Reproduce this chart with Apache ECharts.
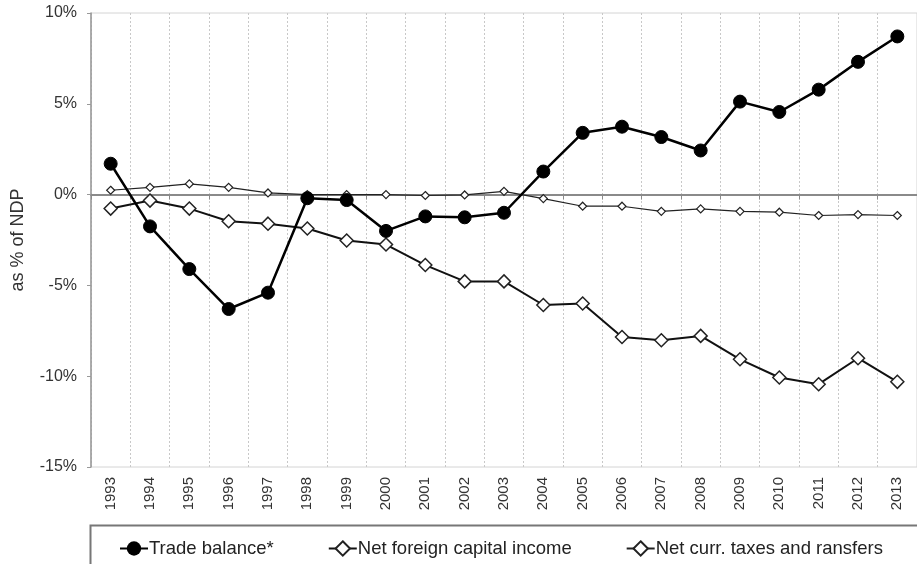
<!DOCTYPE html>
<html style="height: 100%">
<head>
<meta charset="utf-8">
<script src="https://cdn.jsdelivr.net/npm/echarts@6/dist/echarts.min.js"></script>
</head>
<body style="height: 100%; margin: 0; background: #fff">
<div id="container" style="width: 917px; height: 564px"></div>
<script type="text/javascript">
var years = ['1993','1994','1995','1996','1997','1998','1999','2000','2001','2002','2003',
             '2004','2005','2006','2007','2008','2009','2010','2011','2012','2013'];
var tradeBalance = [1.7, -1.75, -4.1, -6.3, -5.4, -0.2, -0.3, -2.0, -1.2, -1.25, -1.0,
                    1.27, 3.4, 3.74, 3.17, 2.43, 5.12, 4.55, 5.78, 7.31, 8.71];
var capitalIncome = [-0.77, -0.33, -0.77, -1.47, -1.6, -1.87, -2.53, -2.75, -3.88, -4.78, -4.78,
                     -6.08, -6.0, -7.84, -8.02, -7.78, -9.07, -10.07, -10.44, -9.01, -10.31];
var taxesTransfers = [0.24, 0.4, 0.59, 0.4, 0.09, 0.0, 0.0, 0.0, -0.05, -0.02, 0.18,
                      -0.22, -0.64, -0.64, -0.92, -0.79, -0.92, -0.97, -1.15, -1.1, -1.15];

var font = 'Liberation Sans, Arial, sans-serif';
var dom = document.getElementById('container');
var myChart = echarts.init(dom);

var option = {
    animation: false,
    textStyle: { fontFamily: font },
    grid: {
        left: 91, right: -7, top: 13, bottom: 97,
        show: true, borderColor: '#d4d4d4', borderWidth: 1
    },
    legend: {
        left: 119, top: 539, padding: 0,
        itemWidth: 28, itemHeight: 18, itemGap: 54,
        textStyle: { fontSize: 18.5, color: '#222', padding: [0, 0, 0, -4] },
        data: ['Trade balance*', 'Net foreign capital income', 'Net curr. taxes and ransfers']
    },
    graphic: [{
        type: 'rect', left: 88, top: 523,
        shape: { width: 850, height: 40 },
        style: { fill: 'none', stroke: '#777', lineWidth: 2 }
    }],
    xAxis: [{
        type: 'category',
        data: years,
        boundaryGap: true,
        axisLine: { onZero: false, show: false },
        axisTick: { show: false },
        axisLabel: { rotate: 90, fontSize: 15, color: '#333', margin: 10 },
        splitLine: { show: true, lineStyle: { color: '#c8c8c8', type: [2, 2], width: 1 } }
    }, {
        type: 'category',
        data: years,
        position: 'top',
        boundaryGap: true,
        axisLine: { onZero: true, lineStyle: { color: '#8a8a8a', width: 2 } },
        axisTick: { show: true, inside: true, length: 5, lineStyle: { color: '#8a8a8a' } },
        axisLabel: { show: false },
        splitLine: { show: false }
    }],
    yAxis: {
        type: 'value',
        min: -15, max: 10, interval: 5,
        name: 'as % of NDP',
        nameLocation: 'middle',
        nameGap: 64,
        nameMoveOverlap: false,
        nameTextStyle: { fontSize: 18, color: '#333' },
        axisLine: { show: true, lineStyle: { color: '#999', width: 1.5 } },
        axisTick: { show: true, length: 4, lineStyle: { color: '#999' } },
        axisLabel: { formatter: '{value}%', fontSize: 16, color: '#333', margin: 14 },
        splitLine: { show: false }
    },
    series: [{
        name: 'Trade balance*',
        type: 'line',
        data: tradeBalance,
        symbol: 'circle',
        symbolSize: 13,
        z: 4,
        lineStyle: { color: '#000', width: 2.5 },
        itemStyle: { color: '#000', borderColor: '#000' }
    }, {
        name: 'Net foreign capital income',
        type: 'line',
        data: capitalIncome,
        symbol: 'diamond',
        symbolSize: 13,
        z: 3,
        lineStyle: { color: '#111', width: 2 },
        itemStyle: { color: '#fff', borderColor: '#222', borderWidth: 1.5 }
    }, {
        name: 'Net curr. taxes and ransfers',
        type: 'line',
        data: taxesTransfers,
        symbol: 'diamond',
        symbolSize: 8,
        z: 2,
        lineStyle: { color: '#222', width: 1.2 },
        itemStyle: { color: '#fff', borderColor: '#222', borderWidth: 1.2 }
    }]
};
myChart.setOption(option);
</script>
</body>
</html>
